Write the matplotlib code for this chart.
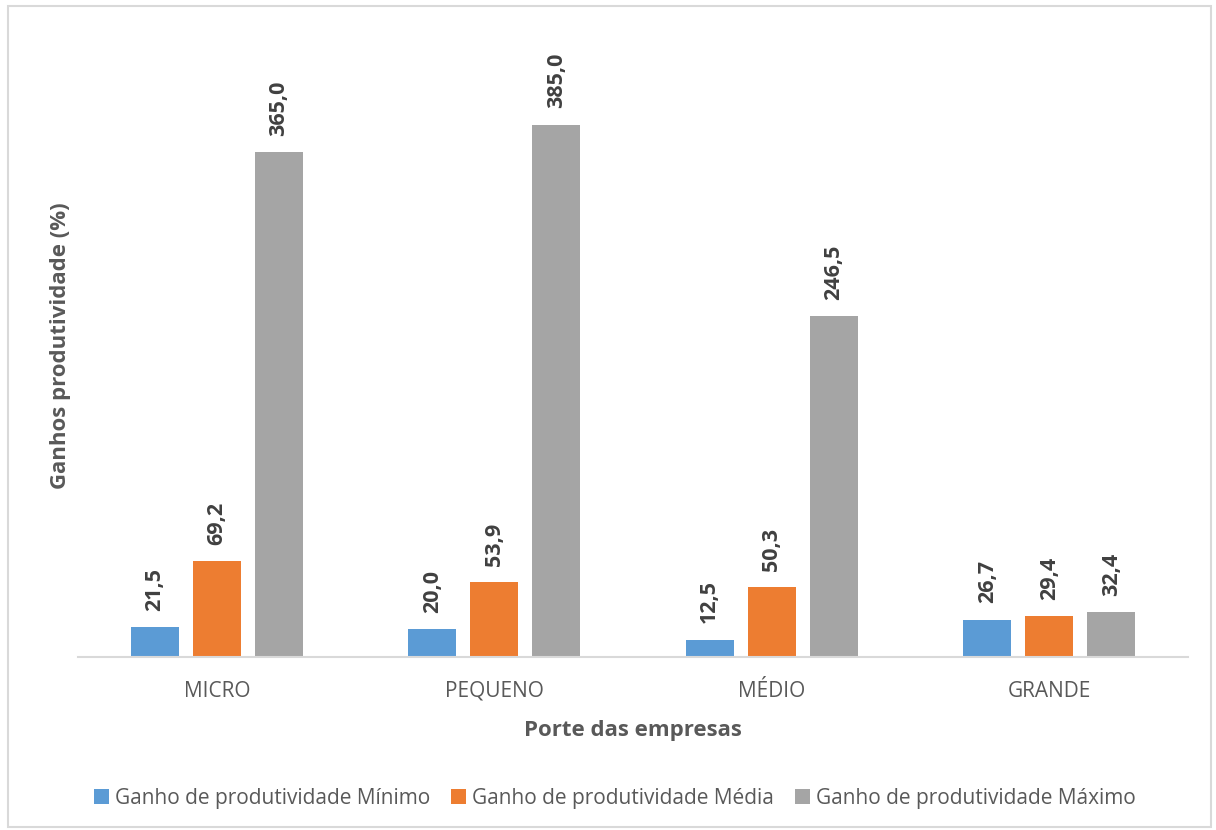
import numpy as np
import matplotlib.pyplot as plt

plt.rcParams['font.family'] = ['Open Sans', 'DejaVu Sans']

categories = ['MICRO', 'PEQUENO', 'MÉDIO', 'GRANDE']
series_names = ['Ganho de produtividade Mínimo',
                'Ganho de produtividade Média',
                'Ganho de produtividade Máximo']
minimo = [21.5, 20.0, 12.5, 26.7]
media = [69.2, 53.9, 50.3, 29.4]
maximo = [365.0, 385.0, 246.5, 32.4]
colors = ['#5B9BD5', '#ED7D31', '#A5A5A5']

fig = plt.figure(figsize=(12.16, 8.30), dpi=100)
# light frame around the whole chart
fig.patches.append(plt.Rectangle((8 / 1216, 3 / 830), 1203 / 1216, 821 / 830,
                                 transform=fig.transFigure, fill=False,
                                 edgecolor='#D9D9D9', linewidth=1.5))

ax = fig.add_axes([78 / 1216, 173 / 830, 1110 / 1216, 622 / 830])
x = np.arange(len(categories))
width = 0.173
step = 0.2234

for i, (vals, col, name) in enumerate(zip([minimo, media, maximo], colors, series_names)):
    bars = ax.bar(x + (i - 1) * step, vals, width, color=col, label=name)
    for b, v in zip(bars, vals):
        ax.annotate(f'{v:.1f}'.replace('.', ','),
                    (b.get_x() + b.get_width() / 2, v),
                    xytext=(0, 12), textcoords='offset points',
                    rotation=90, ha='center', va='bottom',
                    fontsize=15.5, fontweight='bold', color='#404040')

ax.set_xlim(-0.5, 3.5)
ax.set_ylim(0, 450)
ax.set_yticks([])
for s in ['top', 'right', 'left']:
    ax.spines[s].set_visible(False)
ax.spines['bottom'].set_color('#D9D9D9')
ax.spines['bottom'].set_linewidth(1.5)
ax.set_xticks(x)
ax.set_xticklabels(categories, fontsize=15, color='#595959')
ax.tick_params(axis='x', length=0, pad=17)

ax.set_xlabel('Porte das empresas', fontsize=16, fontweight='bold',
              color='#595959', labelpad=13)
ax.set_ylabel('Ganhos produtividade (%)', fontsize=16, fontweight='bold',
              color='#595959', labelpad=5)

fig.legend(loc='center', bbox_to_anchor=(615 / 1216, 1 - 798 / 830), ncol=3,
           frameon=False, fontsize=15, handlelength=0.7, handleheight=0.7,
           handletextpad=0.3, columnspacing=1.0, labelcolor='#595959')

fig.savefig('out.png', dpi=100)
